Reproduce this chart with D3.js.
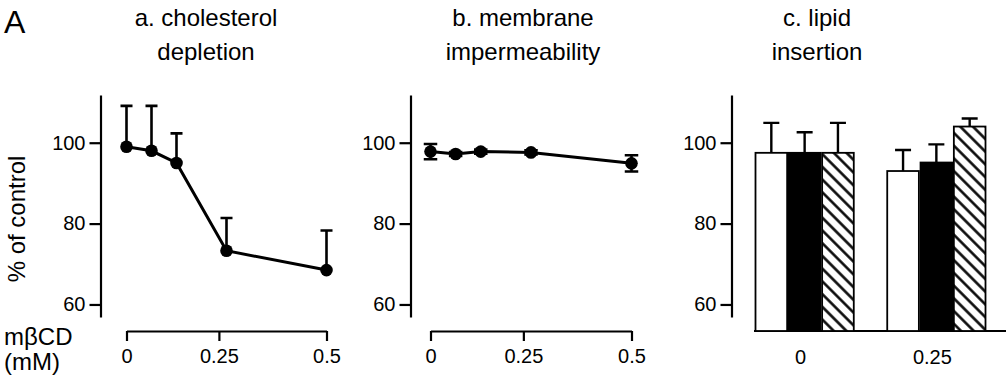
<!DOCTYPE html>
<html>
<head>
<meta charset="utf-8">
<script src="https://cdn.jsdelivr.net/npm/d3@7"></script>
<style>
  body { margin: 0; background: #fff; }
  svg text { font-family: Arial, "Liberation Sans", Helvetica, sans-serif; fill: #000; }
</style>
</head>
<body>
<script>
// values (% of control)
var doses = [0, 0.0625, 0.125, 0.25, 0.5];
var depletion = [99.0, 98.0, 95.0, 73.3, 68.5];
var depletionErr = [10.1, 11.1, 7.3, 8.1, 9.8];
var impermeability = [97.8, 97.2, 97.8, 97.6, 94.9];
var impermeabilityErr = [1.9, 0.5, 0.5, 0.5, 2.0];

var insertionDoses = ['0', '0.25'];
var insertionSeries = ['open', 'filled', 'hatched'];
var insertionAt0 = [97.5, 97.5, 97.5];
var insertionAt025 = [93.0, 95.1, 104.0];
var insertionErrAt0 = [7.4, 5.1, 7.4];
var insertionErrAt025 = [5.2, 4.5, 2.0];

var yTicks = [60, 80, 100];
// the "0.25" tick sits a little left of the 0.25 points in the original drawing
var xTicks = [0, 0.231, 0.5];
var xTickLabels = ['0', '0.25', '0.5'];

var svg = d3.select('body').append('svg').attr('width', 1008).attr('height', 388);

var hatch = svg.append('defs').append('pattern')
  .attr('id', 'hatch').attr('patternUnits', 'userSpaceOnUse')
  .attr('width', 9).attr('height', 9)
  .attr('patternTransform', 'rotate(45)');
hatch.append('rect').attr('width', 9).attr('height', 9).attr('fill', '#fff');
hatch.append('line').attr('x1', 0).attr('x2', 9).attr('y1', 4.5).attr('y2', 4.5)
  .attr('stroke', '#000').attr('stroke-width', 2.5);

var y = d3.scaleLinear().domain([56.9, 111.8]).range([317, 95]);
var baseY = 331;

function styleAxis(g, size) {
  g.select('.domain').attr('stroke', '#000').attr('stroke-width', 2.2);
  g.selectAll('.tick line').attr('stroke', '#000').attr('stroke-width', 2.2);
  g.selectAll('.tick text').style('font-size', size + 'px').attr('fill', '#000');
}

function yAxis(x0) {
  var g = svg.append('g').attr('transform', 'translate(' + x0 + ',0)')
    .call(d3.axisLeft(y).tickValues(yTicks).tickSize(11).tickSizeOuter(0).tickPadding(4));
  styleAxis(g, 20);
}

function linePanel(x0, x1, yAxisX, vals, errs, twoSided, capW) {
  yAxis(yAxisX);
  var x = d3.scaleLinear().domain([0, 0.5]).range([x0, x1]);
  var gx = svg.append('g').attr('transform', 'translate(0,' + baseY + ')')
    .call(d3.axisBottom(x).tickValues(xTicks).tickSize(10).tickSizeOuter(0).tickPadding(8)
      .tickFormat(function(d, i){ return xTickLabels[i]; }));
  styleAxis(gx, 20);

  var pts = doses.map(function(d, i){ return {x: d, v: vals[i], e: errs[i]}; });
  var g = svg.append('g');
  g.selectAll('.err').data(pts).enter().append('path')
    .attr('fill', 'none').attr('stroke', '#000').attr('stroke-width', 2.6)
    .attr('d', function(d){
      var cx = x(d.x), top = y(d.v + d.e), bot = twoSided ? y(d.v - d.e) : y(d.v);
      var p = 'M' + cx + ',' + bot + 'V' + top + 'M' + (cx - capW / 2) + ',' + top + 'H' + (cx + capW / 2);
      if (twoSided) p += 'M' + (cx - capW / 2) + ',' + bot + 'H' + (cx + capW / 2);
      return p;
    });
  g.append('path').datum(pts)
    .attr('fill', 'none').attr('stroke', '#000').attr('stroke-width', 3)
    .attr('d', d3.line().x(function(d){ return x(d.x); }).y(function(d){ return y(d.v); }));
  g.selectAll('circle').data(pts).enter().append('circle')
    .attr('cx', function(d){ return x(d.x); }).attr('cy', function(d){ return y(d.v); })
    .attr('r', 6.3).attr('fill', '#000');
}

linePanel(126.5, 326.5, 100.5, depletion, depletionErr, false, 12);
linePanel(430.5, 631.5, 410.5, impermeability, impermeabilityErr, true, 13.5);

// panel c, grouped bars
yAxis(731.5);
svg.append('line').attr('x1', 754).attr('x2', 1006).attr('y1', baseY).attr('y2', baseY)
  .attr('stroke', '#000').attr('stroke-width', 2.2);

var x0 = d3.scaleBand().domain(insertionDoses).range([755.5, 985.5]).paddingInner(0.254);
var x1 = d3.scaleBand().domain(insertionSeries).range([0, x0.bandwidth()]).paddingInner(0.05);
var fills = {open: '#fff', filled: '#000', hatched: 'url(#hatch)'};
var groups = [
  {dose: '0', vals: insertionAt0, errs: insertionErrAt0},
  {dose: '0.25', vals: insertionAt025, errs: insertionErrAt025}
];
var bars = [];
groups.forEach(function(g){
  insertionSeries.forEach(function(s, i){
    bars.push({dose: g.dose, s: s, v: g.vals[i], e: g.errs[i]});
  });
});
var bg = svg.append('g');
bg.selectAll('.err').data(bars).enter().append('path')
  .attr('fill', 'none').attr('stroke', '#000').attr('stroke-width', 2.4)
  .attr('d', function(d){
    var cx = x0(d.dose) + x1(d.s) + x1.bandwidth() / 2, top = y(d.v + d.e);
    return 'M' + cx + ',' + y(d.v) + 'V' + top + 'M' + (cx - 8) + ',' + top + 'H' + (cx + 8);
  });
bg.selectAll('rect').data(bars).enter().append('rect')
  .attr('x', function(d){ return x0(d.dose) + x1(d.s); })
  .attr('width', x1.bandwidth())
  .attr('y', function(d){ return y(d.v); })
  .attr('height', function(d){ return baseY - y(d.v); })
  .attr('fill', function(d){ return fills[d.s]; })
  .attr('stroke', '#000').attr('stroke-width', 1.8);
bg.selectAll('.lbl').data(insertionDoses).enter().append('text')
  .attr('x', function(d){ return x0(d) + x0.bandwidth() / 2 - 4; })
  .attr('y', 364).attr('text-anchor', 'middle').style('font-size', '20px')
  .text(function(d){ return d; });

// titles and labels
var titles = [
  {x: 206, lines: ['a. cholesterol', 'depletion']},
  {x: 523, lines: ['b. membrane', 'impermeability']},
  {x: 817, lines: ['c. lipid', 'insertion']}
];
titles.forEach(function(t){
  t.lines.forEach(function(l, i){
    svg.append('text').attr('x', t.x).attr('y', 26 + i * 34)
      .attr('text-anchor', 'middle').style('font-size', '24px').text(l);
  });
});
svg.append('text').attr('x', 4).attr('y', 33).style('font-size', '32px').text('A');
svg.append('text').attr('transform', 'translate(25,219) rotate(-90)')
  .attr('text-anchor', 'middle').style('font-size', '24px').text('% of control');
svg.append('text').attr('x', 4).attr('y', 345).style('font-size', '24px').text('mβCD');
svg.append('text').attr('x', 4).attr('y', 370).style('font-size', '24px').text('(mM)');
</script>
</body>
</html>
